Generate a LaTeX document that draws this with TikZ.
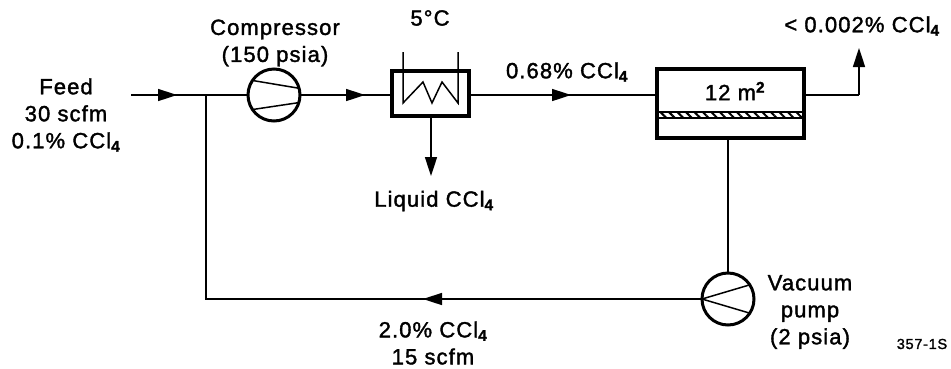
\documentclass[tikz,border=0pt]{standalone}
\usepackage{fontspec}
\setmainfont{Liberation Sans}[LetterSpace=5, FakeBold=1.6]
\usetikzlibrary{arrows.meta, patterns.meta, decorations.markings}
\newcommand{\CClf}{CCl\textsubscript{\bfseries 4}}
\tikzset{
    schema/.style={x=1pt, y=-1pt, line join=miter,
                   font=\fontsize{22}{27}\selectfont},
    pipe/.style={line width=1.6pt, draw=black},
    midtip/.style={postaction={decorate, decoration={markings,
                   mark=at position #1 with {\arrow{Triangle[length=19pt, width=12pt]}}}}},
    endtip/.style={-{Triangle[length=19pt, width=12pt]}},
    machine/.style={circle, draw=black, line width=3pt, fill=white,
                    minimum size=52pt, inner sep=0pt, outer sep=0pt},
    vessel/.style={rectangle, draw=black, line width=3.2pt, fill=white,
                   inner sep=0pt, outer sep=0pt},
    blade/.style={line width=1.5pt, draw=black},
    label/.style={align=center, inner sep=0pt},
}

\begin{document}
\begin{tikzpicture}[schema]
\useasboundingbox (0,0) rectangle (951,368);

% ─── Equipment ──────────────────────────────────────────────────────────
\node[machine] (comp) at (274,95) {};
\node[vessel, minimum width=77pt, minimum height=45pt] (cond) at (430.5,93.5) {};
\node[vessel, minimum width=147pt, minimum height=69pt] (memb) at (730.5,103.5) {};
\node[vessel, line width=1.5pt, minimum width=147pt, minimum height=6pt,
      pattern={Lines[angle=-45, distance=6pt, line width=2pt]}] (film) at (730.5,115) {};
\node[machine] (pump) at (728,299) {};

% ─── Free ends and corners ──────────────────────────────────────────────
\coordinate (feed) at (131,95);
\coordinate (junction) at (206,95);
\coordinate (liquid) at (431,176);
\coordinate (bend) at (859,95);
\coordinate (outlet) at (859,48);
\coordinate (corner) at (206,299);
\coordinate (coilA) at (403,52);
\coordinate (coilB) at (403,103);
\coordinate (coilC) at (423,82);
\coordinate (coilD) at (432,103);
\coordinate (coilE) at (442,82);
\coordinate (coilF) at (458,103);
\coordinate (coilG) at (458,52);

% ─── Inside of the machines ─────────────────────────────────────────────
\draw[blade] (comp.146) -- (comp.15);
\draw[blade] (comp.214) -- (comp.-17);
\draw[blade] (pump.180) -- (pump.33);
\draw[blade] (pump.180) -- (pump.-33);
\draw[blade] (coilA) -- (coilB) -- (coilC) -- (coilD) -- (coilE) -- (coilF) -- (coilG);

% ─── Streams ────────────────────────────────────────────────────────────
\draw[pipe, midtip=46pt] (feed) -- (junction);
\draw[pipe] (junction) -- (comp.west);
\draw[pipe, midtip=65pt] (comp.east) -- (cond.west |- comp.east);
\draw[pipe, midtip=102pt] (cond.east |- comp.east) -- (memb.west |- comp.east);
\draw[pipe, endtip] (cond.south -| liquid) -- (liquid);
\draw[pipe] (memb.east |- bend) -- (bend);
\draw[pipe, endtip] (bend) -- (outlet);
\draw[pipe] (pump.north) -- (pump.north |- memb.south);
\draw[pipe, midtip=279pt] (pump.west) -- (corner) -- (junction);

% ─── Labels ─────────────────────────────────────────────────────────────
\node[label] (feedlabel) at (66,115) {Feed\\30 scfm\\0.1\% \CClf};
\node[label] (complabel) at (275,43) {Compressor\\(150 psia)};
\node[label] (templabel) at (430,18) {5\textdegree C};
\node[label] (liquidlabel) at (434,201) {Liquid \CClf};
\node[label] (midlabel) at (567,72) {0.68\% \CClf};
\node[label] (outlabel) at (862,26) {< 0.002\% \CClf};
\node[label] (arealabel) at (735,91) {12 m\textsuperscript{\bfseries 2}};
\node[label] (pumplabel) at (810,312) {Vacuum\\pump\\(2 psia)};
\node[label] (backlabel) at (433,343) {2.0\% \CClf\\15 scfm};
\node[label, font=\fontsize{14.5}{16}\selectfont] (figlabel) at (922,344) {357-1S};

\end{tikzpicture}
\end{document}
